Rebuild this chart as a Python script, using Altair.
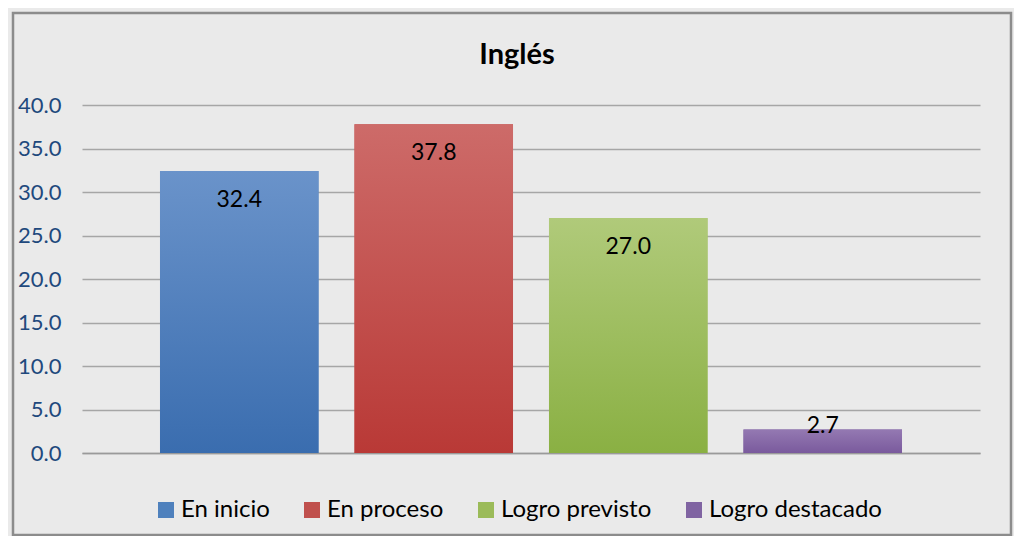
import altair as alt
import pandas as pd

title_text = ["Inglés"]
categories = ["En inicio", "En proceso", "Logro previsto", "Logro destacado"]
values = [32.4, 37.8, 27.0, 2.7]
base_colors = ["#4F81BD", "#C0504D", "#9BBB59", "#8064A2"]
top_colors = ["#6A93CA", "#CD6B69", "#B0CA7A", "#9479B2"]
bottom_colors = ["#3A6DAF", "#B93936", "#8AB043", "#7A5A9D"]
y_ticks = [0, 5, 10, 15, 20, 25, 30, 35, 40]

df = pd.DataFrame({"cat": categories, "v": values})
FONT = "Lato"

xscale = alt.Scale(domain=categories, paddingInner=0.185, paddingOuter=0.401)
yscale = alt.Scale(domain=[0, 40])

x_enc = alt.X("cat:N", scale=xscale, sort=categories,
              axis=alt.Axis(labels=False, ticks=False, title=None, domain=True,
                            domainColor="#9A9A9A", domainWidth=1.5, grid=False))
y_enc = alt.Y("v:Q", scale=yscale,
              axis=alt.Axis(values=y_ticks, format=".1f", title=None, domain=False,
                            ticks=False, grid=True, gridColor="#A6A6A6", gridWidth=1.5,
                            labelFontSize=22, labelColor="#1F497D", labelFont=FONT,
                            labelPadding=21))

frame = alt.Chart(pd.DataFrame({"a": [0]})).mark_rect(
    fillOpacity=0, stroke="#8C8C8C", strokeWidth=2.5
).encode(x=alt.value(-69), x2=alt.value(929), y=alt.value(-92), y2=alt.value(430))

title = alt.Chart(pd.DataFrame({"t": title_text})).mark_text(
    fontSize=29, fontWeight="bold", font=FONT, color="#000000", baseline="middle", align="center"
).encode(x=alt.value(435), y=alt.value(-50), text="t:N")

solid = alt.Chart(df).mark_bar().encode(
    x=x_enc, y=y_enc,
    color=alt.Color("cat:N", sort=categories,
                    scale=alt.Scale(domain=categories, range=base_colors),
                    legend=alt.Legend(title=None, orient="none", legendX=72, legendY=393,
                                      direction="horizontal", symbolType="square",
                                      symbolSize=256, symbolStrokeWidth=0,
                                      labelFontSize=24, labelFont=FONT, labelColor="#000000",
                                      labelLimit=400, columnPadding=30, labelOffset=3)),
)

grad_layers = []
for c, t, b in zip(categories, top_colors, bottom_colors):
    g = alt.Chart(df).transform_filter(alt.datum.cat == c).mark_bar(
        fill=alt.Gradient(gradient="linear", x1=0, x2=0, y1=0, y2=1,
                          stops=[alt.GradientStop(color=t, offset=0),
                                 alt.GradientStop(color=b, offset=1)])
    ).encode(x=alt.X("cat:N", scale=xscale, sort=categories), y=alt.Y("v:Q", scale=yscale))
    grad_layers.append(g)

labels = alt.Chart(df).transform_calculate(
    ly="datum.v > 5 ? datum.v - 3.3 : datum.v + 0.35"
).mark_text(fontSize=23, font=FONT, color="#000000", baseline="middle").encode(
    x=alt.X("cat:N", scale=xscale, sort=categories),
    y=alt.Y("ly:Q", scale=yscale),
    text=alt.Text("v:Q", format=".1f"),
)

chart = alt.layer(frame, title, solid, *grad_layers, labels).properties(
    width=898, height=348,
    padding={"left": 74, "top": 97, "right": 34, "bottom": 83},
    autosize=alt.AutoSizeParams(type="none"),
).configure(background="#EAEAEA").configure_view(stroke=None)

chart.save("out.html", embed_options={"renderer": "svg", "actions": False})
